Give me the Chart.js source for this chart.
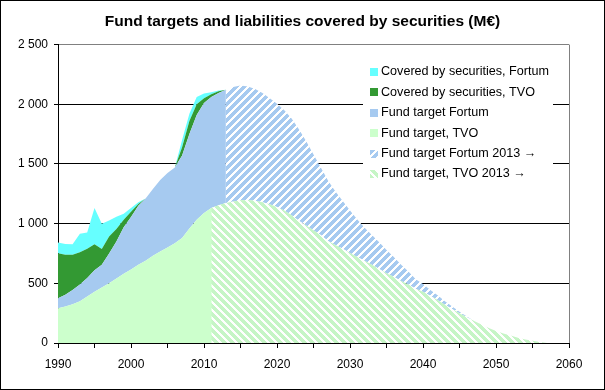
<!DOCTYPE html>
<html>
<head>
<meta charset="utf-8">
<script src="https://cdn.jsdelivr.net/npm/chart.js@4.4.1/dist/chart.umd.min.js"></script>
<style>
  body { margin: 0; background: #fff; }
  canvas { display: block; }
</style>
</head>
<body>
<canvas id="fundChart" width="605" height="390"></canvas>
<script>
// Historic figures (M€)
const histYears = [1990, 1991, 1992, 1993, 1994, 1995, 1996, 1997, 1998, 1999, 2000, 2001,
  2002, 2003, 2004, 2005, 2006, 2007, 2008, 2009, 2010, 2011, 2012, 2013];
const tvoTarget = [291, 305, 325, 350, 390, 430, 465, 500, 540, 580, 615, 655,
  690, 730, 766, 800, 835, 880, 960, 1032, 1090, 1130, 1155, 1172];
const fortumTarget = [84, 100, 120, 140, 155, 180, 190, 250, 310, 390, 440, 495,
  520, 560, 599, 625, 635, 690, 790, 878, 920, 930, 940, 950];
const coveredTvo = [377, 335, 295, 270, 245, 218, 133, 142, 105, 62, 45, 15,
  0, 0, 0, 0, 0, 70, 110, 90, 40, 25, 15, 0];
const coveredFortum = [89, 90, 88, 155, 135, 302, 212, 134, 103, 50, 30, 15,
  0, 0, 0, 0, 0, 60, 60, 60, 40, 15, 5, 0];

// Projection from 2013 on
const tvoYears2013 = [2011, 2012, 2013, 2014, 2015, 2016, 2017, 2018, 2019, 2020,
  2021, 2022, 2023, 2024, 2025, 2026, 2027, 2028, 2029, 2030,
  2031, 2032, 2033, 2034, 2035, 2036, 2037, 2038, 2039, 2040,
  2041, 2042, 2043, 2044, 2045, 2046, 2047, 2048, 2049, 2050,
  2051, 2052, 2053, 2054, 2055, 2056, 2057];
const tvoTarget2013 = [1130, 1155, 1172, 1185, 1195, 1198, 1192, 1180, 1162, 1140,
  1110, 1070, 1025, 985, 945, 905, 855, 820, 790, 755,
  720, 690, 655, 620, 585, 555, 520, 490, 455, 430,
  395, 360, 320, 285, 250, 215, 185, 155, 125, 100,
  80, 62, 45, 30, 18, 8, 0];
const fortumYears2013 = [2013, 2014, 2015, 2016, 2017, 2018, 2019, 2020, 2021, 2022,
  2023, 2024, 2025, 2026, 2027, 2028, 2029, 2030, 2031, 2032,
  2033, 2034, 2035, 2036, 2037, 2038, 2039, 2040, 2041, 2042,
  2043, 2044, 2045, 2046, 2047];
const fortumTarget2013 = [938, 960, 963, 952, 936, 915, 888, 865, 840, 810,
  765, 705, 635, 565, 505, 450, 400, 355, 315, 275,
  250, 225, 195, 165, 135, 110, 80, 65, 50, 40,
  30, 20, 12, 6, 0];

const xTicks = [1990, 1995, 2000, 2005, 2010, 2015, 2020, 2025, 2030, 2035, 2040, 2045, 2050, 2055, 2060];
const yTicks = [0, 500, 1000, 1500, 2000, 2500];

const canvas = document.getElementById("fundChart");
const ctx = canvas.getContext("2d");

// 8x8 diagonal stripe tile, like the Excel fill patterns
function hatch(color, dir) {
  const c = document.createElement("canvas");
  c.width = 8;
  c.height = 8;
  const g = c.getContext("2d");
  g.fillStyle = "#fff";
  g.fillRect(0, 0, 8, 8);
  g.fillStyle = color;
  for (let y = 0; y < 8; y++) {
    for (let x = 0; x < 8; x++) {
      const k = dir === "up" ? (x + y) % 8 : (x - y + 8) % 8;
      if (k < 5) g.fillRect(x, y, 1, 1);
    }
  }
  return ctx.createPattern(c, "repeat");
}

const points = (xs, ys) => xs.map((x, i) => ({ x: x, y: ys[i] }));

const area = (label, xs, ys, bg, stack, fill) => ({
  label: label,
  data: points(xs, ys),
  backgroundColor: bg,
  borderColor: "rgba(0,0,0,0)",
  borderWidth: 0,
  pointRadius: 0,
  pointHoverRadius: 0,
  tension: 0,
  fill: fill,
  stack: stack,
});

// Legend drawn inside the plot, on a white box
const boxLegend = {
  id: "boxLegend",
  afterDatasetsDraw(chart) {
    const c = chart.ctx;
    c.save();
    c.fillStyle = "#fff";
    c.fillRect(363, 61, 190, 122);
    c.font = '12.6px "Liberation Sans", Arial, sans-serif';
    c.textBaseline = "middle";
    const items = chart.data.datasets.slice().reverse();
    items.forEach((ds, i) => {
      const y = 72 + i * 20.4;
      c.fillStyle = ds.backgroundColor;
      c.fillRect(370, Math.round(y) - 4, 8, 8);
      c.fillStyle = "#000";
      c.fillText(ds.label, 381, y);
    });
    c.restore();
  },
};

const frame = {
  id: "frame",
  beforeDraw(chart) {
    const c = chart.ctx;
    c.save();
    c.fillStyle = "#fff";
    c.fillRect(0, 0, chart.width, chart.height);
    c.restore();
  },
  afterDraw(chart) {
    const c = chart.ctx;
    c.save();
    c.strokeStyle = "#000";
    c.lineWidth = 1;
    c.strokeRect(0.5, 0.5, chart.width - 1, chart.height - 1);
    c.restore();
  },
};

Chart.defaults.font.family = '"Liberation Sans", Arial, sans-serif';
Chart.defaults.color = "#000";

new Chart(ctx, {
  type: "line",
  data: {
    datasets: [
      area("Fund target, TVO 2013 \u2192", tvoYears2013, tvoTarget2013, hatch("#C6F5C6", "down"), "plan", "origin"),
      area("Fund target Fortum 2013 \u2192", fortumYears2013, fortumTarget2013, hatch("#A6CAF0", "up"), "plan", "-1"),
      area("Fund target, TVO", histYears, tvoTarget, "#CCFFCC", "hist", "origin"),
      area("Fund target Fortum", histYears, fortumTarget, "#A6CAF0", "hist", "-1"),
      area("Covered by securities, TVO", histYears, coveredTvo, "#339933", "hist", "-1"),
      area("Covered by securities, Fortum", histYears, coveredFortum, "#66FFFF", "hist", "-1"),
    ],
  },
  options: {
    responsive: false,
    animation: false,
    events: [],
    layout: { padding: 0 },
    plugins: {
      legend: { display: false },
      tooltip: { enabled: false },
      title: {
        display: true,
        text: "Fund targets and liabilities covered by securities (M\u20ac)",
        font: { size: 15.5, weight: "bold" },
        color: "#000",
        padding: { top: 12, bottom: 14 },
      },
    },
    scales: {
      x: {
        type: "linear",
        min: 1990,
        max: 2060,
        afterBuildTicks: (s) => {
          s.ticks = xTicks.map((v) => ({ value: v }));
        },
        ticks: {
          autoSkip: false,
          maxRotation: 0,
          padding: 9,
          font: { size: 12 },
          callback: (v) => (v % 10 === 0 ? String(v) : ""),
        },
        grid: {
          drawOnChartArea: true,
          color: (c) => (c.tick && c.tick.value === 2060 ? "#808080" : "rgba(0,0,0,0)"),
          tickColor: "#000",
          tickLength: 5,
        },
        border: { color: "#000" },
        afterFit: (s) => {
          s.height = 47;
        },
      },
      y: {
        stacked: true,
        min: 0,
        max: 2500,
        afterBuildTicks: (s) => {
          s.ticks = yTicks.map((v) => ({ value: v }));
        },
        ticks: {
          padding: 6,
          font: { size: 12 },
          callback: (v) => String(v).replace(/\B(?=(\d{3})+(?!\d))/g, " "),
        },
        grid: {
          color: (c) => (c.tick && c.tick.value === 2500 ? "#808080" : "#000"),
          tickColor: "#000",
          tickLength: 4,
        },
        border: { color: "#000" },
        afterFit: (s) => {
          s.width = 58;
        },
      },
      // empty right-hand axis, only keeps the margin so the title stays centred on the page
      spacer: {
        type: "linear",
        position: "right",
        grid: { display: false },
        border: { display: false },
        ticks: { display: false },
        afterFit: (s) => {
          s.width = 36;
        },
      },
    },
  },
  plugins: [frame, boxLegend],
});
</script>
</body>
</html>
